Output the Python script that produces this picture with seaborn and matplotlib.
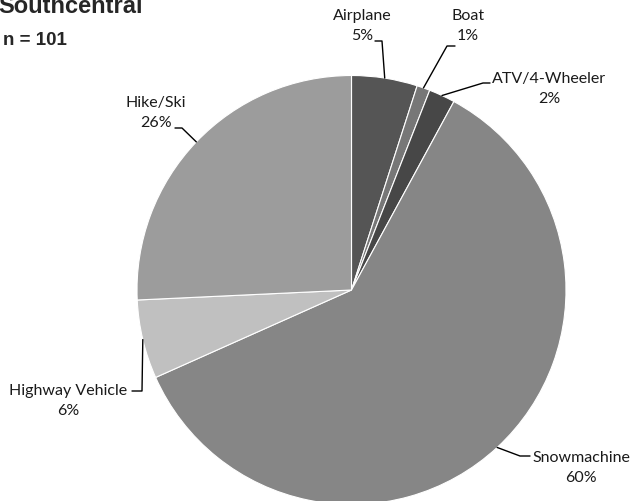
import numpy as np
import seaborn as sns
import matplotlib.pyplot as plt

# data
categories = ["Airplane", "Boat", "ATV/4-Wheeler", "Snowmachine", "Highway Vehicle", "Hike/Ski"]
counts = [5, 1, 2, 61, 6, 26]
pct_labels = ["5%", "1%", "2%", "60%", "6%", "26%"]

colors = ["#555555", "#777777", "#474747", "#868686", "#c0c0c0", "#9c9c9c"]

sns.set_theme(style="white")
plt.rcParams['font.family'] = ['Lato', 'DejaVu Sans']

W, H = 636, 502
fig = plt.figure(figsize=(W / 100, H / 100), dpi=100)

# pie centre and radius in pixels
cx, cy, r = 351.5, 291, 214.5
ax = fig.add_axes([(cx - r) / W, 1 - (cy + r) / H, 2 * r / W, 2 * r / H])
wedges, _ = ax.pie(counts, colors=colors, startangle=90, counterclock=False,
                   wedgeprops=dict(edgecolor="white", linewidth=0.8))
ax.set_xlim(-1, 1)
ax.set_ylim(-1, 1)
ax.set_aspect("auto")
ax.axis("off")

def to_data(px, py):
    return (px - cx) / r, (cy - py) / r

# label layout (pixels): text centre, elbow point, end of horizontal tick
label_pos = [(362, 26), (468, 26), (549, 89), (581, 468), (68, 401), (156, 113)]
elbows = [(382, 42), (447, 47), (483, 84), (520, 457), (142, 392), (182, 129)]
ends = [(375, 42), (455, 47), (490, 84), (530, 457), (132, 392), (175, 129)]

for w, cat, pct, lp, el, en in zip(wedges, categories, pct_labels, label_pos, elbows, ends):
    mid = np.deg2rad((w.theta1 + w.theta2) / 2)
    ax_, ay_ = np.cos(mid), np.sin(mid)
    ex, ey = to_data(*el)
    nx, ny = to_data(*en)
    ax.plot([ax_, ex, nx], [ay_, ey, ny], color="black", lw=1, clip_on=False)
    tx, ty = to_data(*lp)
    ax.text(tx, ty, f"{cat}\n{pct}", ha="center", va="center", fontsize=11.5,
            linespacing=1.55, color="#1a1a1a", clip_on=False)

fig.text(-0.002, 1 - 13 / H, "Southcentral", fontsize=17, fontweight="bold",
         family="Liberation Sans", va="baseline", ha="left")
fig.text(3 / W, 1 - 45 / H, "n = 101", fontsize=13.5, fontweight="bold",
         family="Liberation Sans", va="baseline", ha="left")

fig.savefig("out.png", dpi=100)
